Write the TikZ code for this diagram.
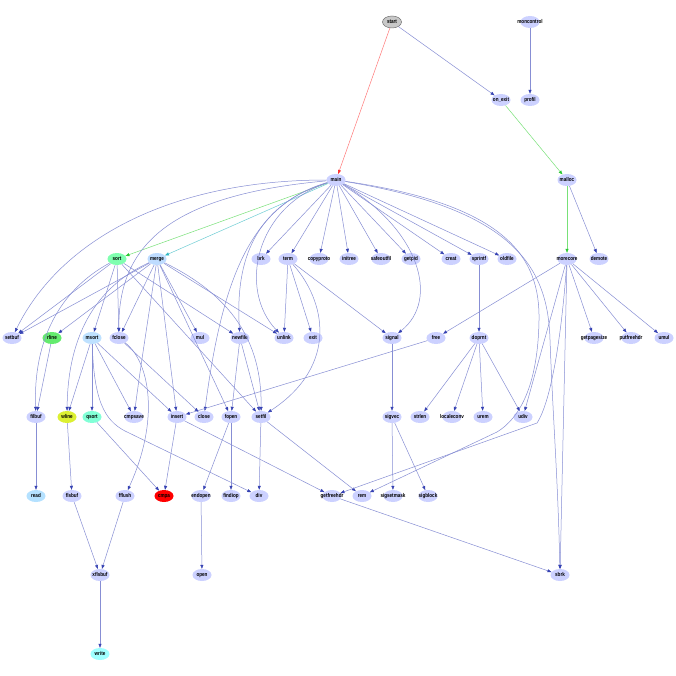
\documentclass[tikz,border=0pt]{standalone}
\usepackage{fontspec}
\newfontfamily\gfont{Liberation Sans Bold}[FakeStretch=0.82]
\usetikzlibrary{shapes.geometric,arrows.meta}
\definecolor{nodec}{RGB}{204,209,255}
\definecolor{ec}{RGB}{54,66,179}
\definecolor{ecl}{RGB}{135,142,212}
\definecolor{ered}{RGB}{255,40,40}
\definecolor{eredl}{RGB}{255,120,120}
\definecolor{egreen}{RGB}{40,200,50}
\definecolor{egreenl}{RGB}{120,225,120}
\definecolor{ecyan}{RGB}{46,182,194}
\definecolor{ecyanl}{RGB}{110,205,212}
\definecolor{csort}{RGB}{128,255,176}
\definecolor{cmerge}{RGB}{190,220,255}
\definecolor{crline}{RGB}{100,235,110}
\definecolor{cmsort}{RGB}{190,225,255}
\definecolor{cwline}{RGB}{220,240,50}
\definecolor{cqsort}{RGB}{130,255,215}
\definecolor{ccmpa}{RGB}{255,0,0}
\definecolor{cread}{RGB}{180,225,255}
\definecolor{cwrite}{RGB}{160,255,255}
\definecolor{cstart}{RGB}{200,200,200}
\newcommand\gn[4][]{%
  \setbox0=\hbox{\gfont\fontsize{5.6}{6}\selectfont #4}%
  \dimen0=\wd0 \advance\dimen0 by 5pt
  \ifdim\dimen0<19pt \dimen0=19pt\fi
  \edef\gw{\the\dimen0}%
  \node[gnode,minimum width=\gw,#1] (#2) at (#3) {\makebox[0pt]{\raisebox{-1.6pt}[0pt][0pt]{#4}}};}
\begin{document}
\begin{tikzpicture}[x=1pt,y=-1pt,
  gnode/.style={ellipse, fill=nodec, draw=none, inner sep=0pt, minimum height=12pt, font=\gfont\fontsize{5.6}{6}\selectfont},
  ed/.style={draw=ecl, line width=0.5pt, -{Triangle[length=4pt,width=3pt,color=ec]}},
  edred/.style={draw=eredl, line width=0.5pt, -{Triangle[length=4pt,width=3pt,color=ered]}},
  edgreen/.style={draw=egreenl, line width=0.5pt, -{Triangle[length=4pt,width=3pt,color=egreen]}},
  edcyan/.style={draw=ecyanl, line width=0.5pt, -{Triangle[length=4pt,width=3pt,color=ecyan]}}]
\fill[white] (0,0) rectangle (676,676);
\useasboundingbox (0,0) rectangle (676,676);
% row 1
\gn[fill=cstart,draw=black!55,line width=0.5pt]{start}{392,22}{start}
\gn{moncontrol}{530,22}{moncontrol}
% row 2
\gn{on_exit}{501,100}{on\_exit}
\gn{profil}{530,100}{profil}
% row 3
\gn{main}{336,180}{main}
\gn{malloc}{567,180}{malloc}
% row 4
\gn[fill=csort]{sort}{117,259}{sort}
\gn[fill=cmerge]{merge}{157,259}{merge}
\gn{brk}{261,259}{brk}
\gn{term}{288,259}{term}
\gn{copyproto}{319,259}{copyproto}
\gn{initree}{349,259}{initree}
\gn{safeoutfil}{381,259}{safeoutfil}
\gn{getpid}{411,259}{getpid}
\gn{creat}{451,259}{creat}
\gn{sprintf}{479,259}{sprintf}
\gn{oldfile}{507,259}{oldfile}
\gn{morecore}{567,259}{morecore}
\gn{demote}{599,259}{demote}
% row 5
\gn{setbuf}{12,338}{setbuf}
\gn[fill=crline]{rline}{52,338}{rline}
\gn[fill=cmsort]{msort}{92,338}{msort}
\gn{fclose}{119,338}{fclose}
\gn{mul}{200,338}{mul}
\gn{newfile}{240,338}{newfile}
\gn{unlink}{284,338}{unlink}
\gn{exit}{313,338}{exit}
\gn{signal}{392,338}{signal}
\gn{free}{436,338}{free}
\gn{doprnt}{479,338}{doprnt}
\gn{getpagesize}{594,338}{getpagesize}
\gn{putfreehdr}{631,338}{putfreehdr}
\gn{umul}{664,338}{umul}
% row 6
\gn{filbuf}{36,417}{filbuf}
\gn[fill=cwline]{wline}{67,417}{wline}
\gn[fill=cqsort]{qsort}{92,417}{qsort}
\gn{cmpsave}{134,417}{cmpsave}
\gn{insert}{177,417}{insert}
\gn{close}{204,417}{close}
\gn{fopen}{231,417}{fopen}
\gn{setfil}{261,417}{setfil}
\gn{sigvec}{392,417}{sigvec}
\gn{strlen}{420,417}{strlen}
\gn{localeconv}{452,417}{localeconv}
\gn{urem}{483,417}{urem}
\gn{udiv}{523,417}{udiv}
% row 7
\gn[fill=cread]{read}{36,496}{read}
\gn{flsbuf}{72,496}{flsbuf}
\gn{fflush}{125,496}{fflush}
\gn[fill=ccmpa]{cmpa}{164,496}{cmpa}
\gn{endopen}{201,496}{endopen}
\gn{findiop}{231,496}{findiop}
\gn{div}{259,496}{div}
\gn{getfreehdr}{332,496}{getfreehdr}
\gn{rem}{362,496}{rem}
\gn{sigsetmask}{393,496}{sigsetmask}
\gn{sigblock}{428,496}{sigblock}
% row 8
\gn{xflsbuf}{100,575}{xflsbuf}
\gn{open}{202,575}{open}
\gn{sbrk}{560,575}{sbrk}
% row 9
\gn[fill=cwrite]{write}{100,654}{write}

% ---- edges ----
\draw[edred] (start) -- (main);
\draw[ed] (start) -- (on_exit);
\draw[ed] (moncontrol) -- (profil);
\draw[edgreen] (on_exit) -- (malloc);
\draw[edgreen] (malloc) -- (morecore);
\draw[ed] (malloc) -- (demote);
% main
\draw[edgreen] (main) -- (sort);
\draw[edcyan] (main) -- (merge);
\foreach \t in {brk,term,copyproto,initree,safeoutfil,getpid,creat,sprintf,oldfile}
  \draw[ed] (main) -- (\t);
\draw[ed] (main) .. controls (170,180) and (60,240) .. (setbuf);
\draw[ed] (main) .. controls (170,195) and (118,245) .. (fclose);
\draw[ed] (main) .. controls (250,205) and (222,280) .. (close);
\draw[ed] (main) .. controls (255,205) and (235,260) .. (newfile);
\draw[ed] (main) .. controls (255,207) and (238,290) .. (unlink);
\draw[ed] (main) .. controls (420,230) and (440,300) .. (signal);
\draw[ed] (main) .. controls (510,205) and (540,260) .. (539,320) .. controls (538,385) and (520,418) .. (497,432) -- (rem);
\draw[ed] (main) .. controls (518,210) and (548,270) .. (550,340) .. controls (553,420) and (558,480) .. (sbrk);
% sort
\draw[ed] (sort) -- (msort);
\draw[ed] (sort) .. controls (60,290) and (33,340) .. (filbuf);
\draw[ed] (sort) -- (newfile);
\draw[ed] (sort) -- (fclose);
\draw[ed] (sort) -- (setbuf);
\draw[ed] (sort) -- (setfil);
% merge
\draw[ed] (merge) -- (insert);
\draw[ed] (merge) -- (rline);
\draw[ed] (merge) .. controls (100,285) and (68,330) .. (wline);
\draw[ed] (merge) -- (unlink);
\draw[ed] (merge) -- (fopen);
\draw[ed] (merge) -- (fclose);
\draw[ed] (merge) .. controls (230,295) and (262,340) .. (setfil);
\draw[ed] (merge) -- (mul);
\draw[ed] (merge) -- (setbuf);
\draw[ed] (merge) .. controls (148,320) and (140,370) .. (cmpsave);
% msort
\draw[ed] (msort) -- (qsort);
\draw[ed] (msort) -- (insert);
\draw[ed] (msort) -- (wline);
\draw[ed] (msort) .. controls (94,400) and (104,420) .. (125,431) -- (div);
\draw[ed] (msort) -- (cmpsave);
% lower
\draw[ed] (insert) -- (cmpa);
\draw[ed] (qsort) -- (cmpa);
\draw[ed] (insert) -- (getfreehdr);
\draw[ed] (free) -- (insert);
\draw[ed] (wline) -- (flsbuf);
\draw[ed] (rline) -- (filbuf);
\draw[ed] (filbuf) -- (read);
\draw[ed] (flsbuf) -- (xflsbuf);
\draw[ed] (fflush) -- (xflsbuf);
\draw[ed] (xflsbuf) -- (write);
\draw[ed] (fclose) .. controls (150,362) and (160,420) .. (fflush);
\draw[ed] (fclose) -- (close);
\draw[ed] (term) -- (unlink);
\draw[ed] (term) -- (signal);
\draw[ed] (term) .. controls (325,300) and (340,365) .. (setfil);
\draw[ed] (term) -- (exit);
\draw[ed] (endopen) -- (open);
\draw[ed] (fopen) -- (endopen);
\draw[ed] (fopen) -- (findiop);
\draw[ed] (newfile) -- (fopen);
\draw[ed] (newfile) -- (setfil);
\draw[ed] (setfil) -- (div);
\draw[ed] (setfil) -- (rem);
% morecore
\draw[ed] (morecore) -- (sbrk);
\draw[ed] (morecore) .. controls (562,330) and (552,400) .. (537,423) -- (getfreehdr);
\draw[ed] (morecore) -- (free);
\draw[ed] (morecore) -- (getpagesize);
\draw[ed] (morecore) -- (putfreehdr);
\draw[ed] (morecore) -- (udiv);
\draw[ed] (morecore) -- (umul);
\draw[ed] (getfreehdr) -- (sbrk);
% signal / doprnt
\draw[ed] (signal) -- (sigvec);
\draw[ed] (sigvec) -- (sigblock);
\draw[ed] (sigvec) -- (sigsetmask);
\draw[ed] (sprintf) -- (doprnt);
\draw[ed] (doprnt) -- (urem);
\draw[ed] (doprnt) -- (udiv);
\draw[ed] (doprnt) -- (strlen);
\draw[ed] (doprnt) -- (localeconv);
\end{tikzpicture}
\end{document}
